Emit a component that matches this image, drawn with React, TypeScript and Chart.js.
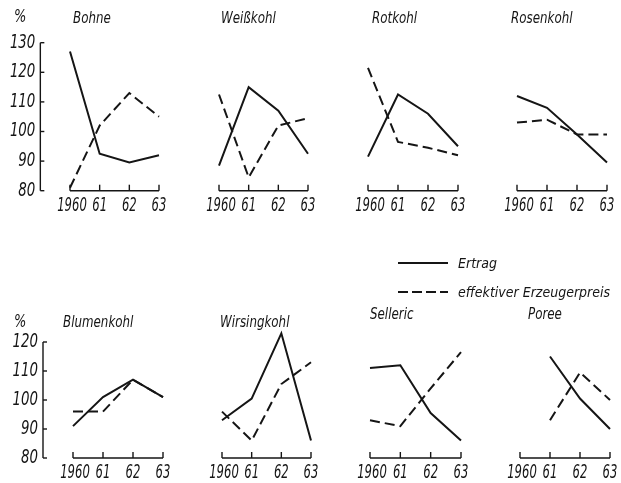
import React, { useEffect, useRef } from 'react';
import { Chart, registerables } from 'chart.js';

Chart.register(...registerables);

// ---- data ----
const years = ['1960', '61', '62', '63'];
const topTicks = [80, 90, 100, 110, 120, 130];
const bottomTicks = [80, 90, 100, 110, 120];

const bohneErtrag = [127, 92.5, 89.5, 92];
const bohnePreis = [81, 102, 113, 105];
const weisskohlErtrag = [88.5, 115, 107, 92.5];
const weisskohlPreis = [112.5, 84.5, 102, 104.5];
const rotkohlErtrag = [91.5, 112.5, 106, 95];
const rotkohlPreis = [121.5, 96.5, 94.5, 92];
const rosenkohlErtrag = [112, 108, 99, 89.5];
const rosenkohlPreis = [103, 104, 99, 99];

const blumenkohlErtrag = [91, 101, 107, 101];
const blumenkohlPreis = [96, 96, 107, 101];
const wirsingErtrag = [93, 100.5, 123, 86];
const wirsingPreis = [96, 86, 105.5, 113];
const sellerieErtrag = [111, 112, 95.5, 86];
const selleriePreis = [93, 91, 104, 116.5];
const porreeErtrag = [null, 115, 100.5, 90];
const porreePreis = [null, 93, 109.5, 100];

const legendLabels = ['Ertrag', 'effektiver Erzeugerpreis'];

const FONT = '"DejaVu Sans Condensed", "DejaVu Sans", sans-serif';
const INK = '#151515';

type PanelProps = {
  title: string;
  ertrag: (number | null)[];
  preis: (number | null)[];
  x0: number;
  x1: number;
  yTopPx: number;
  yBotPx: number;
  yMin: number;
  yMax: number;
  canvasTop: number;
  canvasH: number;
  titleX: number;
  titleY: number;
  yTicks?: number[];
  pctY?: number;
};

const PAD_L = 65;
const PAD_R = 15;

function drawText(
  ctx: CanvasRenderingContext2D,
  text: string,
  x: number,
  y: number,
  font: string,
  align: CanvasTextAlign,
  sx: number
) {
  ctx.save();
  ctx.font = font;
  ctx.textAlign = align;
  ctx.textBaseline = 'middle';
  ctx.translate(x, y);
  ctx.scale(sx, 1);
  ctx.fillText(text, 0, 0);
  ctx.restore();
}

function Panel(p: PanelProps) {
  const ref = useRef<HTMLCanvasElement | null>(null);
  const left = p.x0 - PAD_L;
  const width = p.x1 - p.x0 + PAD_L + PAD_R;

  useEffect(() => {
    if (!ref.current) return;
    const axisPlugin = {
      id: 'panelAxes',
      afterDraw(chart: any) {
        const ctx = chart.ctx as CanvasRenderingContext2D;
        const xs = chart.scales.x;
        const ys = chart.scales.y;
        const baseY = ys.getPixelForValue(p.yMin);
        ctx.save();
        ctx.strokeStyle = INK;
        ctx.fillStyle = INK;
        ctx.lineWidth = 1.4;
        // x baseline
        ctx.beginPath();
        ctx.moveTo(xs.getPixelForValue(0), baseY);
        ctx.lineTo(xs.getPixelForValue(years.length - 1), baseY);
        ctx.stroke();
        // ticks + labels
        years.forEach((lab, i) => {
          const x = xs.getPixelForValue(i);
          ctx.beginPath();
          ctx.moveTo(x, baseY);
          ctx.lineTo(x, baseY - 6);
          ctx.stroke();
          drawText(ctx, lab, x + (i === 0 ? 2 : 0), baseY + 15, `italic 19px ${FONT}`, 'center', 0.68);
        });
        // title
        drawText(ctx, p.title, p.titleX - left, p.titleY - p.canvasTop, `italic 15px ${FONT}`, 'left', 0.88);
        // y axis
        if (p.yTicks) {
          const step = xs.getPixelForValue(1) - xs.getPixelForValue(0);
          const ax = xs.getPixelForValue(0) - step;
          ctx.beginPath();
          ctx.moveTo(ax, ys.getPixelForValue(p.yMax));
          ctx.lineTo(ax, ys.getPixelForValue(p.yMin));
          ctx.stroke();
          p.yTicks.forEach((t) => {
            const y = ys.getPixelForValue(t);
            ctx.beginPath();
            ctx.moveTo(ax, y);
            ctx.lineTo(ax + 4, y);
            ctx.stroke();
            drawText(ctx, String(t), ax - 5, y, `italic 19px ${FONT}`, 'right', 0.78);
          });
          if (p.pctY !== undefined) {
            drawText(ctx, '%', 14 - left, p.pctY - p.canvasTop, `italic 17px ${FONT}`, 'left', 0.85);
          }
        }
        ctx.restore();
      },
    };

    const chart = new Chart(ref.current, {
      type: 'line',
      data: {
        labels: years,
        datasets: [
          {
            label: legendLabels[0],
            data: p.ertrag,
            borderColor: INK,
            borderWidth: 2,
            pointRadius: 0,
            tension: 0,
            fill: false,
            clip: false,
          } as any,
          {
            label: legendLabels[1],
            data: p.preis,
            borderColor: INK,
            borderWidth: 2,
            borderDash: [10, 5],
            pointRadius: 0,
            tension: 0,
            fill: false,
            clip: false,
          } as any,
        ],
      },
      options: {
        responsive: false,
        animation: false,
        layout: {
          padding: {
            left: PAD_L,
            right: PAD_R,
            top: p.yTopPx - p.canvasTop,
            bottom: p.canvasTop + p.canvasH - p.yBotPx,
          },
        },
        scales: {
          x: { type: 'category', offset: false, display: false },
          y: { type: 'linear', min: p.yMin, max: p.yMax, display: false },
        },
        plugins: {
          legend: { display: false },
          tooltip: { enabled: false },
          title: { display: false },
        },
        events: [],
      },
      plugins: [axisPlugin],
    });
    return () => chart.destroy();
  }, []);

  return (
    <canvas
      ref={ref}
      width={width}
      height={p.canvasH}
      style={{ position: 'absolute', left, top: p.canvasTop, width, height: p.canvasH, display: 'block' }}
    />
  );
}

const TOP = { yTopPx: 42.7, yBotPx: 190.7, yMin: 80, yMax: 130, canvasTop: 0, canvasH: 228 };
const BOT = { yTopPx: 342, yBotPx: 458, yMin: 80, yMax: 120, canvasTop: 300, canvasH: 183 };

export default function App() {
  return (
    <div style={{ position: 'absolute', left: 0, top: 0, width: 621, height: 483, background: '#fff', overflow: 'hidden' }}>
      <Panel {...TOP} title="Bohne" ertrag={bohneErtrag} preis={bohnePreis} x0={70} x1={159} titleX={73} titleY={19} yTicks={topTicks} pctY={18} />
      <Panel {...TOP} title="Weißkohl" ertrag={weisskohlErtrag} preis={weisskohlPreis} x0={219} x1={308} titleX={221} titleY={19} />
      <Panel {...TOP} title="Rotkohl" ertrag={rotkohlErtrag} preis={rotkohlPreis} x0={368} x1={458} titleX={372} titleY={19} />
      <Panel {...TOP} title="Rosenkohl" ertrag={rosenkohlErtrag} preis={rosenkohlPreis} x0={517} x1={607} titleX={511} titleY={19} />

      <Panel {...BOT} title="Blumenkohl" ertrag={blumenkohlErtrag} preis={blumenkohlPreis} x0={73} x1={163} titleX={63} titleY={323} yTicks={bottomTicks} pctY={323} />
      <Panel {...BOT} title="Wirsingkohl" ertrag={wirsingErtrag} preis={wirsingPreis} x0={222} x1={311} titleX={220} titleY={323} />
      <Panel {...BOT} title="Selleric" ertrag={sellerieErtrag} preis={selleriePreis} x0={370} x1={461} titleX={370} titleY={315} />
      <Panel {...BOT} title="Poree" ertrag={porreeErtrag} preis={porreePreis} x0={520} x1={610} titleX={528} titleY={315} />

      <div style={{ position: 'absolute', left: 398, top: 254, fontFamily: FONT, fontStyle: 'italic', fontSize: 14, color: INK, lineHeight: '18px' }}>
        <div style={{ display: 'flex', alignItems: 'center', height: 18 }}>
          <span style={{ display: 'inline-block', width: 50, height: 2, background: INK, marginRight: 10 }} />
          <span>{legendLabels[0]}</span>
        </div>
        <div style={{ display: 'flex', alignItems: 'center', height: 18, marginTop: 11 }}>
          <span
            style={{
              display: 'inline-block',
              width: 50,
              height: 2,
              background: `repeating-linear-gradient(to right, ${INK} 0px, ${INK} 10px, transparent 10px, transparent 14px)`,
              marginRight: 10,
            }}
          />
          <span style={{ whiteSpace: 'nowrap' }}>{legendLabels[1]}</span>
        </div>
      </div>
    </div>
  );
}
